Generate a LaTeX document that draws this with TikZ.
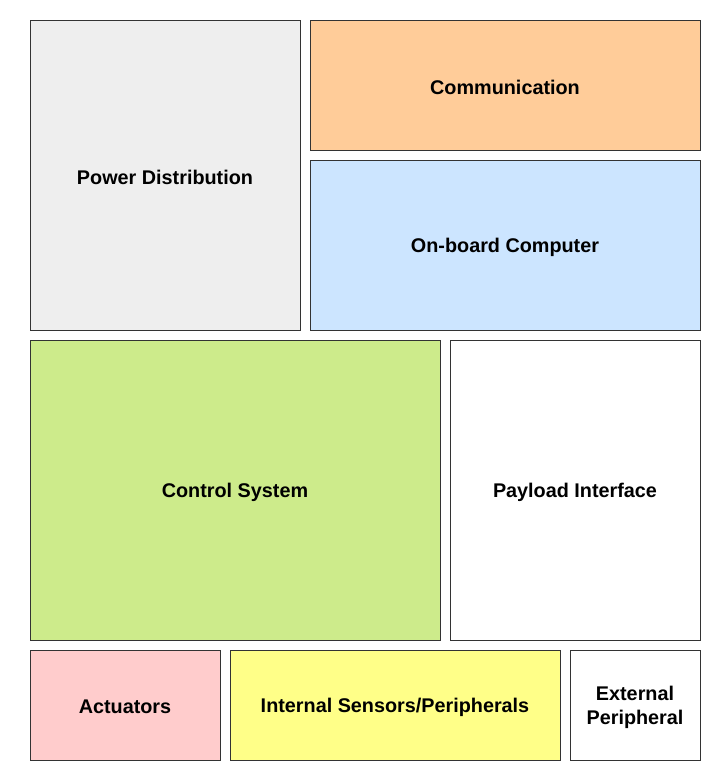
\documentclass[tikz,border=0pt]{standalone}
\usepackage{fontspec}
\setmainfont{Liberation Sans}
\definecolor{powerfill}{HTML}{EEEEEE}
\definecolor{commfill}{HTML}{FFCC99}
\definecolor{obcfill}{HTML}{CCE5FF}
\definecolor{ctrlfill}{HTML}{CDEB8B}
\definecolor{actfill}{HTML}{FFCCCC}
\definecolor{sensfill}{HTML}{FFFF88}
\definecolor{edgegray}{HTML}{333333}
\tikzset{
    block/.style={draw=edgegray, line width=0.9pt, fill=white},
    blocklabel/.style={align=center, font=\fontsize{19.8}{24}\selectfont\bfseries}
}
\begin{document}
\begin{tikzpicture}[x=1pt, y=-1pt]
    \useasboundingbox (0,0) rectangle (721,782);

    % Blocks in top row
    \draw[block, fill=powerfill] (30,20) rectangle (300,330);
    \node[blocklabel] (power) at (165,177) {Power Distribution};
    \draw[block, fill=commfill] (310,20) rectangle (700,150);
    \node[blocklabel] (comm) at (505,87) {Communication};
    \draw[block, fill=obcfill] (310,160) rectangle (700,330);
    \node[blocklabel] (obc) at (505,247) {On-board Computer};

    % Middle row
    \draw[block, fill=ctrlfill] (30,340) rectangle (440,640);
    \node[blocklabel] (ctrl) at (235,492) {Control System};
    \draw[block] (450,340) rectangle (700,640);
    \node[blocklabel] (payload) at (575,492) {Payload Interface};

    % Bottom row
    \draw[block, fill=actfill] (30,650) rectangle (220,760);
    \node[blocklabel] (act) at (125,707) {Actuators};
    \draw[block, fill=sensfill] (230,650) rectangle (560,760);
    \node[blocklabel] (sens) at (395,707) {Internal Sensors/Peripherals};
    \draw[block] (570,650) rectangle (700,760);
    \node[blocklabel] (ext) at (635,707) {External\\Peripheral};
\end{tikzpicture}
\end{document}
